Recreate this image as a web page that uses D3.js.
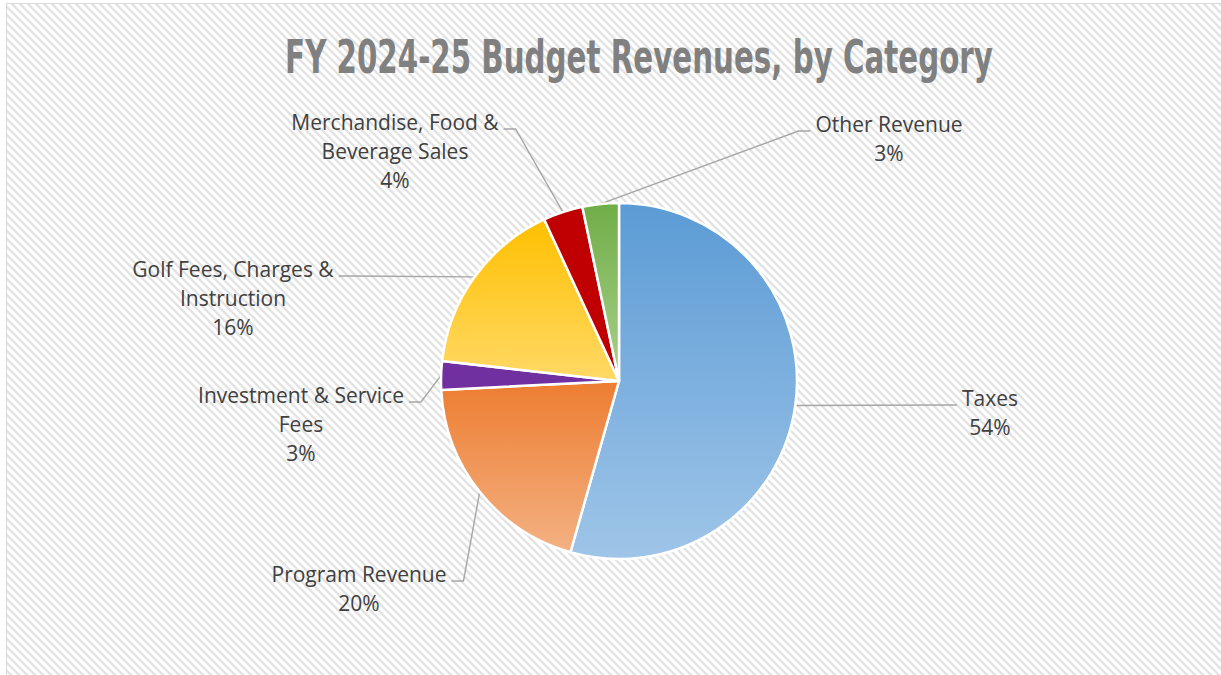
<!DOCTYPE html>
<html>
<head>
<meta charset="utf-8">
<script src="https://cdn.jsdelivr.net/npm/d3@7"></script>
<style>
  html, body { margin: 0; padding: 0; background: #fff; }
  #chart svg { display: block; }
</style>
</head>
<body>
<div id="chart"></div>
<script>
// Values (share of total revenue, %)
const categories = [
  "Taxes",
  "Program Revenue",
  "Investment & Service Fees",
  "Golf Fees, Charges & Instruction",
  "Merchandise, Food & Beverage Sales",
  "Other Revenue"
];
const shares = [54.4, 19.8, 2.6, 16.3, 3.6, 3.3];
const labelLines = [
  ["Taxes"],
  ["Program Revenue"],
  ["Investment & Service", "Fees"],
  ["Golf Fees, Charges &", "Instruction"],
  ["Merchandise, Food &", "Beverage Sales"],
  ["Other Revenue"]
];
const chartTitle = "FY 2024-25 Budget Revenues, by Category";

// styles: gradient top / bottom per slice
const sliceColors = [
  ["#5b9bd5", "#9fc5e8"],
  ["#ed7d31", "#f4b183"],
  ["#7030a0", "#7030a0"],
  ["#ffc000", "#ffd966"],
  ["#c00000", "#c00000"],
  ["#70ad47", "#a9d18e"]
];

// where each data label sits (center x, first baseline, side the leader joins)
const labelLayout = [
  { x: 990, y: 406, side: "left" },
  { x: 359, y: 582, side: "right" },
  { x: 301, y: 403, side: "right" },
  { x: 233, y: 277, side: "right" },
  { x: 395, y: 130, side: "right" },
  { x: 889, y: 132, side: "left" }
];

const width = 1221, height = 675;
const cx = 619, cy = 381, radius = 178;
const lineHeight = 29;
const titleWidth = 708;

const data = categories.map((c, i) => ({ name: c, value: shares[i], index: i }));
const total = d3.sum(shares);
const pct = d3.format(".0%");

const svg = d3.select("#chart")
  .append("svg")
  .attr("width", width)
  .attr("height", height);

const defs = svg.append("defs");

// Excel style "wide downward diagonal" fill
const pattern = defs.append("pattern")
  .attr("id", "hatch")
  .attr("patternUnits", "userSpaceOnUse")
  .attr("width", 8)
  .attr("height", 8);
pattern.append("rect").attr("width", 8).attr("height", 8).attr("fill", "#ffffff");
pattern.append("path")
  .attr("d", "M-2,-2 L10,10 M-2,6 L2,10 M6,-2 L10,2")
  .attr("stroke", "#e3e3e3")
  .attr("stroke-width", 2.4);

sliceColors.forEach((c, i) => {
  const g = defs.append("linearGradient")
    .attr("id", "grad" + i)
    .attr("x1", 0).attr("y1", 0)
    .attr("x2", 0).attr("y2", 1);
  g.append("stop").attr("offset", "0%").attr("stop-color", c[0]);
  g.append("stop").attr("offset", "100%").attr("stop-color", c[1]);
});

// chart area
svg.append("rect")
  .attr("x", 6.5)
  .attr("y", 3.5)
  .attr("width", width + 20)
  .attr("height", height + 20)
  .attr("fill", "url(#hatch)")
  .attr("stroke", "#d9d9d9")
  .attr("stroke-width", 1);

// title, squeezed to the condensed width of the original
const title = svg.append("text")
  .attr("text-anchor", "middle")
  .style("font-family", "'Liberation Sans Narrow', 'DejaVu Sans Condensed', 'Liberation Sans', sans-serif")
  .style("font-weight", "bold")
  .style("font-size", "46px")
  .attr("fill", "#808080")
  .text(chartTitle);
const natural = title.node().getComputedTextLength();
title.attr("transform", `translate(639,73) scale(${Math.min(1, titleWidth / natural)},1)`);

const pie = d3.pie().sort(null).value(d => d.value);
const arcs = pie(data);

const arc = d3.arc().innerRadius(0).outerRadius(radius);
const edgeArc = d3.arc().innerRadius(radius).outerRadius(radius);

const leaderG = svg.append("g");
const pieG = svg.append("g").attr("transform", `translate(${cx},${cy})`);

pieG.selectAll("path")
  .data(arcs)
  .join("path")
  .attr("d", arc)
  .attr("fill", d => `url(#grad${d.data.index})`)
  .attr("stroke", "#ffffff")
  .attr("stroke-width", 2.5)
  .attr("stroke-linejoin", "round");

// labels
const labelG = svg.append("g")
  .style("font-family", "'Open Sans', 'Noto Sans', sans-serif")
  .style("font-size", "21px")
  .attr("fill", "#404040");

arcs.forEach(d => {
  const i = d.data.index;
  const pos = labelLayout[i];
  const lines = labelLines[i].concat([pct(d.data.value / total)]);

  const t = labelG.append("text")
    .attr("text-anchor", "middle");
  lines.forEach((ln, k) => {
    t.append("tspan")
      .attr("x", pos.x)
      .attr("y", pos.y + k * lineHeight)
      .text(ln);
  });

  const firstWidth = t.select("tspan").node().getComputedTextLength();
  const dir = pos.side === "left" ? -1 : 1;
  const edgeX = pos.x + dir * (firstWidth / 2 + 5);
  const ly = pos.y - 1;
  const [px, py] = edgeArc.centroid(d);

  leaderG.append("polyline")
    .attr("points", [
      [cx + px, cy + py],
      [edgeX + dir * 12, ly],
      [edgeX, ly]
    ].map(p => p.join(",")).join(" "))
    .attr("fill", "none")
    .attr("stroke", "#a6a6a6")
    .attr("stroke-width", 1.4);
});
</script>
</body>
</html>
